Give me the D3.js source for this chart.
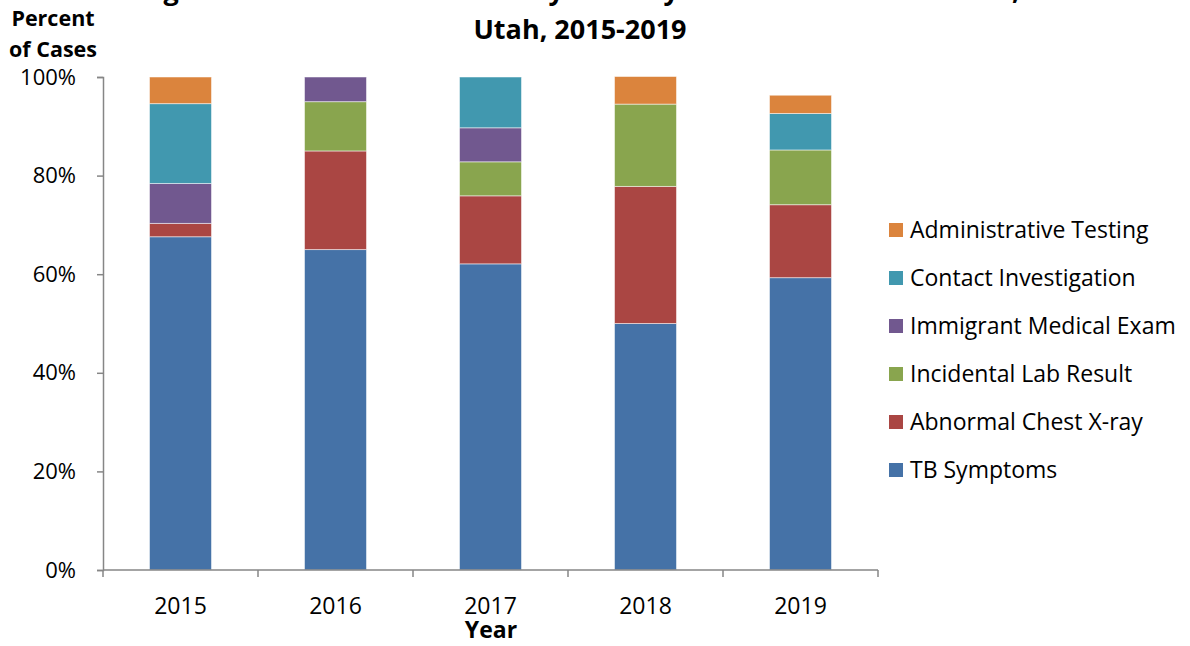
<!DOCTYPE html>
<html>
<head>
<meta charset="utf-8">
<script src="https://cdn.jsdelivr.net/npm/d3@7"></script>
<style>
  body { margin: 0; background: #fff; }
  svg text { font-family: "Open Sans", sans-serif; fill: #000; }
</style>
</head>
<body>
<svg id="chart" width="1190" height="646"></svg>
<script>
// data (percent of cases)
var years = ['2015', '2016', '2017', '2018', '2019'];
var seriesNames = ['TB Symptoms', 'Abnormal Chest X-ray', 'Incidental Lab Result',
                   'Immigrant Medical Exam', 'Contact Investigation', 'Administrative Testing'];
var tbSymptoms      = [67.6, 65.0, 62.1, 50.0, 59.3];
var abnormalXray    = [2.7, 20.0, 13.8, 27.8, 14.8];
var incidentalLab   = [0, 10.0, 6.9, 16.7, 11.1];
var immigrantExam   = [8.1, 5.0, 6.9, 0, 0];
var contactInvest   = [16.2, 0, 10.3, 0, 7.4];
var adminTesting    = [5.4, 0, 0, 5.6, 3.7];
var yTicks = [0, 20, 40, 60, 80, 100];
var colors = ['#4572A7', '#AA4643', '#89A54E', '#71588F', '#4198AF', '#DB843D'];

var svg = d3.select('#chart');

var mLeft = 103, mRight = 878, mTop = 77, mBottom = 570;

var table = years.map(function(yr, i) {
  return {
    year: yr,
    'TB Symptoms': tbSymptoms[i],
    'Abnormal Chest X-ray': abnormalXray[i],
    'Incidental Lab Result': incidentalLab[i],
    'Immigrant Medical Exam': immigrantExam[i],
    'Contact Investigation': contactInvest[i],
    'Administrative Testing': adminTesting[i]
  };
});

var x = d3.scaleBand().domain(years).range([mLeft, mRight]).paddingInner(0.6).paddingOuter(0.3);
var y = d3.scaleLinear().domain([0, 100]).range([mBottom, mTop]);
var color = d3.scaleOrdinal().domain(seriesNames).range(colors);

var stacked = d3.stack().keys(seriesNames)(table);

// bars
svg.append('g').selectAll('g')
  .data(stacked)
  .join('g')
    .attr('fill', d => color(d.key))
  .selectAll('rect')
  .data(d => d.filter(p => p[1] - p[0] > 0))
  .join('rect')
    .attr('x', d => x(d.data.year))
    .attr('width', x.bandwidth())
    .attr('y', d => y(d[1]))
    .attr('height', d => y(d[0]) - y(d[1]))
    .attr('stroke', '#fff')
    .attr('stroke-opacity', 0.5)
    .attr('stroke-width', 1);

// y axis
var yAxis = svg.append('g')
  .attr('transform', 'translate(' + mLeft + ',0)')
  .call(d3.axisLeft(y).tickValues(yTicks).tickFormat(d => d + '%').tickSize(6).tickPadding(21));
yAxis.select('.domain').attr('stroke', '#868686').attr('stroke-width', 1.5);
yAxis.selectAll('.tick line').attr('stroke', '#868686').attr('stroke-width', 1.5);
yAxis.selectAll('text').style('font-size', '22px').attr('fill', '#000')
  .style('font-family', '"Open Sans", sans-serif');

// x axis: ticks at band boundaries
var xg = svg.append('g').attr('transform', 'translate(0,' + mBottom + ')');
xg.append('line').attr('x1', mLeft).attr('x2', mRight)
  .attr('stroke', '#868686').attr('stroke-width', 1.5);
var bounds = years.map(yr => x(yr) - x.step() * 0.3).concat([mRight]);
xg.selectAll('line.tk').data(bounds).join('line')
  .attr('class', 'tk')
  .attr('x1', d => d).attr('x2', d => d)
  .attr('y1', 0).attr('y2', 7)
  .attr('stroke', '#868686').attr('stroke-width', 1.5);
xg.selectAll('text').data(years).join('text')
  .attr('x', d => x(d) + x.bandwidth() / 2)
  .attr('y', 44)
  .attr('text-anchor', 'middle')
  .style('font-size', '23px')
  .text(d => d);

// axis titles
svg.append('text').attr('x', 491).attr('y', 638)
  .attr('text-anchor', 'middle').style('font-size', '23px').style('font-weight', 'bold')
  .text('Year');
svg.append('text').attr('x', 53).attr('y', 26)
  .attr('text-anchor', 'middle').style('font-size', '21.5px').style('font-weight', 'bold')
  .text('Percent');
svg.append('text').attr('x', 53).attr('y', 57)
  .attr('text-anchor', 'middle').style('font-size', '21.5px').style('font-weight', 'bold')
  .text('of Cases');

// title (first line runs off the top of the image)
svg.append('text').attr('x', 580).attr('y', 0)
  .attr('text-anchor', 'middle').style('font-size', '27px').style('font-weight', 'bold')
  .text('Figure 5. Percent of TB Cases by Primary Reason Evaluated for TB,');
svg.append('text').attr('x', 580).attr('y', 39)
  .attr('text-anchor', 'middle').style('font-size', '27px').style('font-weight', 'bold')
  .text('Utah, 2015-2019');

// legend (reverse order, top = last series)
var legendItems = seriesNames.slice().reverse();
var legend = svg.append('g').selectAll('g')
  .data(legendItems)
  .join('g')
    .attr('transform', (d, i) => 'translate(889,' + (230 + i * 48) + ')');
legend.append('rect')
  .attr('x', 0).attr('y', -7).attr('width', 14).attr('height', 14)
  .attr('fill', d => color(d));
legend.append('text')
  .attr('x', 21).attr('y', 0).attr('dy', '0.35em')
  .style('font-size', '23px')
  .text(d => d);
</script>
</body>
</html>
